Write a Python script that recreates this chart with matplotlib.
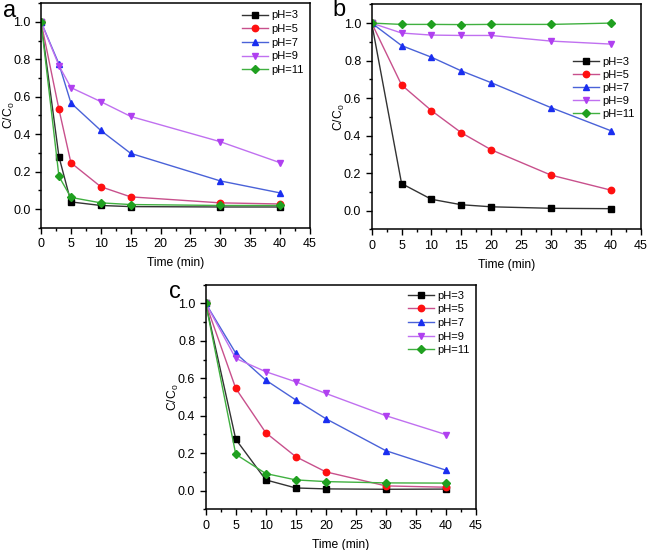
import matplotlib
matplotlib.use('Agg')
import matplotlib.pyplot as plt
from matplotlib.ticker import MultipleLocator

plt.rcParams['font.family'] = ['Liberation Sans', 'DejaVu Sans']
plt.rcParams['mathtext.fontset'] = 'custom'
plt.rcParams['mathtext.rm'] = 'Liberation Sans'
plt.rcParams['mathtext.it'] = 'Liberation Sans'

# ---- data ----
labels = ['pH=3', 'pH=5', 'pH=7', 'pH=9', 'pH=11']

time_a = [0, 3, 5, 10, 15, 30, 40]
a_ph3 = [1.0, 0.28, 0.039, 0.02, 0.014, 0.012, 0.012]
a_ph5 = [1.0, 0.533, 0.248, 0.12, 0.066, 0.034, 0.028]
a_ph7 = [1.0, 0.775, 0.567, 0.42, 0.298, 0.151, 0.087]
a_ph9 = [1.0, 0.766, 0.649, 0.574, 0.495, 0.36, 0.248]
a_ph11 = [1.0, 0.175, 0.063, 0.034, 0.025, 0.02, 0.02]

time_b = [0, 5, 10, 15, 20, 30, 40]
b_ph3 = [1.0, 0.144, 0.06, 0.031, 0.02, 0.012, 0.01]
b_ph5 = [1.0, 0.67, 0.533, 0.415, 0.324, 0.189, 0.109]
b_ph7 = [1.0, 0.88, 0.818, 0.745, 0.682, 0.549, 0.426]
b_ph9 = [1.0, 0.947, 0.936, 0.934, 0.934, 0.904, 0.888]
b_ph11 = [1.0, 0.993, 0.993, 0.992, 0.993, 0.993, 1.0]

time_c = [0, 5, 10, 15, 20, 30, 40]
c_ph3 = [1.0, 0.274, 0.057, 0.014, 0.009, 0.007, 0.008]
c_ph5 = [1.0, 0.546, 0.309, 0.181, 0.1, 0.025, 0.018]
c_ph7 = [1.0, 0.734, 0.59, 0.484, 0.384, 0.213, 0.109]
c_ph9 = [1.0, 0.706, 0.635, 0.581, 0.519, 0.40, 0.299]
c_ph11 = [1.0, 0.194, 0.091, 0.057, 0.048, 0.041, 0.04]

# line colour, marker colour, marker, marker size
styles = [
    ('#333333', '#000000', 's', 4.0),
    ('#c8508c', '#ff1010', 'o', 4.6),
    ('#4a62d8', '#1a2ef0', '^', 4.8),
    ('#c070f0', '#b040f0', 'v', 4.8),
    ('#40b040', '#20a020', 'D', 3.6),
]

fig = plt.figure(figsize=(6.49, 5.5), dpi=100)

# letter, axes rect, letter pos, times, series, legend anchor, legend spacing
panels = [
    ('a', [0.0632, 0.5855, 0.4145, 0.409], (0.004, 0.969), time_a,
     [a_ph3, a_ph5, a_ph7, a_ph9, a_ph11], (0.994, 0.987), 0.33),
    ('b', [0.5727, 0.5831, 0.4145, 0.409], (0.512, 0.970), time_b,
     [b_ph3, b_ph5, b_ph7, b_ph9, b_ph11], (0.995, 0.785), 0.27),
    ('c', [0.317, 0.074, 0.4164, 0.4084], (0.261, 0.458), time_c,
     [c_ph3, c_ph5, c_ph7, c_ph9, c_ph11], (0.994, 0.993), 0.33),
]

for letter, rect, lpos, t, series, anchor, lsp in panels:
    ax = fig.add_axes(rect)
    for lab, y, (lc, mc, mk, ms) in zip(labels, series, styles):
        ax.plot(t, y, color=lc, lw=1.0, marker=mk, markersize=ms,
                markerfacecolor=mc, markeredgecolor=mc, label=lab)
    ax.set_xlim(0, 45)
    ax.set_ylim(-0.1, 1.1)
    ax.xaxis.set_major_locator(MultipleLocator(5))
    ax.xaxis.set_minor_locator(MultipleLocator(2.5))
    ax.yaxis.set_major_locator(MultipleLocator(0.2))
    ax.yaxis.set_minor_locator(MultipleLocator(0.1))
    ax.yaxis.set_major_formatter(plt.FormatStrFormatter('%.1f'))
    ax.tick_params(which='major', direction='out', length=4, width=1, labelsize=9)
    ax.tick_params(which='minor', direction='out', length=2.5, width=1)
    for s in ax.spines.values():
        s.set_linewidth(1.1)
    ax.set_xlabel('Time (min)', fontsize=8.7, labelpad=5)
    ax.set_ylabel('C/C$_0$', fontsize=8.7)
    ax.yaxis.set_label_coords(-0.09, 0.5)
    ax.legend(frameon=False, fontsize=8, handlelength=2.4, labelspacing=lsp,
              handletextpad=0.3, borderaxespad=0, loc='upper right',
              bbox_to_anchor=anchor)
    fig.text(lpos[0], lpos[1], letter, fontsize=17, ha='left', va='baseline')

fig.savefig('out.png', dpi=100)
